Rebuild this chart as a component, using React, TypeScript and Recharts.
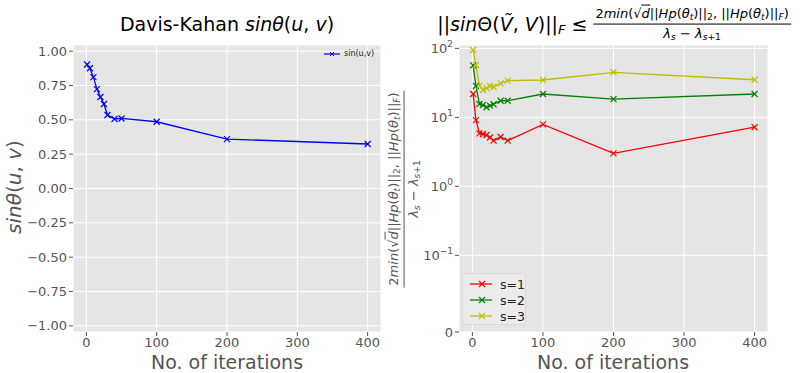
import { LineChart, Line, XAxis, YAxis, CartesianGrid } from 'recharts';

// iterations (shared x values)
const ITER = [1, 5, 10, 15, 20, 25, 30, 40, 50, 100, 200, 400];
// left panel: Davis-Kahan sin(u,v)
const SIN_UV = [0.903, 0.876, 0.811, 0.724, 0.666, 0.615, 0.535, 0.506, 0.51, 0.486, 0.36, 0.324];
// right panel: bound for s=1,2,3
const S1 = [21.8, 9.1, 5.87, 5.74, 5.55, 5.1, 4.6, 5.2, 4.6, 7.9, 3.0, 7.2];
const S2 = [56.8, 28.5, 15.6, 15.1, 14.0, 14.8, 15.5, 17.4, 17.4, 21.8, 18.4, 21.8];
const S3 = [94.6, 57.4, 28.8, 24.9, 26.4, 28.5, 27.8, 31.1, 34.0, 34.8, 45, 35.1];

const X_TICKS = [0, 100, 200, 300, 400];
const LEFT_Y_TICKS = [-1, -0.75, -0.5, -0.25, 0, 0.25, 0.5, 0.75, 1];
const RIGHT_Y_VALUES = [0, 0.1, 1, 10, 100];
const RIGHT_Y_LABELS = ['0', '−1', '0', '1', '2'];

// matplotlib symlog, linthresh=0.1, linscale=1
const LINTHRESH = 0.1;
const LINSCALE = 1 / (1 - 1 / 10);
const symlog = (v: number) =>
  v < LINTHRESH ? (v / LINTHRESH) * LINSCALE : LINSCALE + Math.log10(v / LINTHRESH);

const leftData = ITER.map((it, i) => ({ it, sin: SIN_UV[i] }));
const rightData = ITER.map((it, i) => ({ it, s1: symlog(S1[i]), s2: symlog(S2[i]), s3: symlog(S3[i]) }));
const RIGHT_TICKS = RIGHT_Y_VALUES.map(symlog);

const FONT = '"DejaVu Sans", sans-serif';
const BG = '#E5E5E5';
const TICK = { fill: '#555', fontSize: 13, fontFamily: FONT };

const xMark = (color: string) => (props: any) => {
  const { cx, cy, index } = props;
  if (cx == null || cy == null) return <g key={index} />;
  const r = 3;
  return (
    <path
      key={index}
      d={`M${cx - r},${cy - r}L${cx + r},${cy + r}M${cx - r},${cy + r}L${cx + r},${cy - r}`}
      stroke={color}
      strokeWidth={1.2}
      fill="none"
    />
  );
};

const PowTick = (props: any) => {
  const { x, y, payload, index } = props;
  const lbl = RIGHT_Y_LABELS[index];
  if (index === 0) {
    return (
      <text x={x} y={y} dy="0.35em" textAnchor="end" {...TICK}>
        {lbl}
      </text>
    );
  }
  return (
    <text x={x} y={y} dy="0.35em" textAnchor="end" {...TICK} key={payload.value}>
      10
      <tspan dy={-6} fontSize={9}>
        {lbl}
      </tspan>
      <tspan dy={6} fontSize={2}> </tspan>
    </text>
  );
};

const subStyle = { fontSize: '0.7em', verticalAlign: '-0.3em', lineHeight: 0 } as const;

const Frac = ({ size, color }: { size: number; color: string }) => (
  <span
    style={{
      display: 'inline-flex',
      flexDirection: 'column',
      alignItems: 'center',
      fontSize: size,
      lineHeight: 1.15,
      color,
    }}
  >
    <span style={{ padding: '0 2px 2px' }}>
      2<i>min</i>(√<span style={{ borderTop: `1px solid ${color}` }}><i>d</i></span>||<i>Hp</i>(<i>θ</i>
      <sub style={subStyle}><i>t</i></sub>)||<sub style={subStyle}>2</sub>, ||<i>Hp</i>(<i>θ</i>
      <sub style={subStyle}><i>t</i></sub>)||<sub style={subStyle}><i>F</i></sub>)
    </span>
    <span style={{ alignSelf: 'stretch', borderTop: `1px solid ${color}` }} />
    <span style={{ paddingTop: 2 }}>
      <i>λ</i><sub style={subStyle}><i>s</i></sub> − <i>λ</i><sub style={subStyle}><i>s</i>+1</sub>
    </span>
  </span>
);

const center = (x: number, y: number, extra = '') =>
  ({
    position: 'absolute',
    left: x,
    top: y,
    transform: `translate(-50%, -50%) ${extra}`,
    whiteSpace: 'nowrap',
    fontFamily: FONT,
    lineHeight: 1,
  }) as const;

const LegendRow = ({ color, label }: { color: string; label: string }) => (
  <div style={{ display: 'flex', alignItems: 'center', height: 16 }}>
    <svg width={26} height={10} style={{ marginRight: 8 }}>
      <line x1={1} y1={5} x2={25} y2={5} stroke={color} strokeWidth={1.3} />
      <path d="M10,2L16,8M10,8L16,2" stroke={color} strokeWidth={1.2} />
    </svg>
    <span style={{ fontSize: 12.5, color: '#222' }}>{label}</span>
  </div>
);

export default function App() {
  return (
    <div style={{ position: 'absolute', left: 0, top: 0, width: 800, height: 373, background: '#fff', overflow: 'hidden' }}>
      {/* left panel */}
      <div style={{ position: 'absolute', left: 0, top: 0 }}>
        <LineChart width={400} height={373} data={leftData} margin={{ top: 45, right: 19, bottom: 0, left: 0 }}>
          <CartesianGrid fill={BG} stroke="#fff" strokeWidth={1} />
          <XAxis
            dataKey="it"
            type="number"
            domain={[-19, 419]}
            ticks={X_TICKS}
            allowDataOverflow
            axisLine={false}
            tickLine={{ stroke: '#555' }}
            tickSize={4}
            tickMargin={2}
            height={41}
            tick={TICK}
          />
          <YAxis
            type="number"
            domain={[-1.045, 1.045]}
            ticks={LEFT_Y_TICKS}
            allowDataOverflow
            axisLine={false}
            tickLine={{ stroke: '#555' }}
            tickSize={4}
            tickMargin={2}
            width={73}
            tick={TICK}
            tickFormatter={(v: number) => (v < 0 ? '−' + Math.abs(v).toFixed(2) : v.toFixed(2))}
          />
          <Line
            dataKey="sin"
            stroke="#0000ff"
            strokeWidth={1.3}
            dot={xMark('#0000ff')}
            isAnimationActive={false}
          />
        </LineChart>
      </div>

      {/* right panel */}
      <div style={{ position: 'absolute', left: 400, top: 0 }}>
        <LineChart width={400} height={373} data={rightData} margin={{ top: 45, right: 32, bottom: 0, left: 0 }}>
          <CartesianGrid fill={BG} stroke="#fff" strokeWidth={1} />
          <XAxis
            dataKey="it"
            type="number"
            domain={[-19, 419]}
            ticks={X_TICKS}
            allowDataOverflow
            axisLine={false}
            tickLine={{ stroke: '#555' }}
            tickSize={4}
            tickMargin={2}
            height={41}
            tick={TICK}
          />
          <YAxis
            type="number"
            domain={[0, 4.16]}
            ticks={RIGHT_TICKS}
            allowDataOverflow
            axisLine={false}
            tickLine={{ stroke: '#555' }}
            tickSize={4}
            tickMargin={2}
            width={59}
            tick={<PowTick />}
          />
          <Line dataKey="s1" stroke="#ff0000" strokeWidth={1.3} dot={xMark('#ff0000')} isAnimationActive={false} />
          <Line dataKey="s2" stroke="#008000" strokeWidth={1.3} dot={xMark('#008000')} isAnimationActive={false} />
          <Line dataKey="s3" stroke="#bfbf00" strokeWidth={1.3} dot={xMark('#bfbf00')} isAnimationActive={false} />
        </LineChart>
      </div>

      {/* titles */}
      <div style={{ ...center(227, 24), fontSize: 19, color: '#000' }}>
        Davis-Kahan <i>sinθ</i>(<i>u</i>, <i>v</i>)
      </div>
      <div style={{ ...center(614, 24), display: 'flex', alignItems: 'center', color: '#000' }}>
        <span style={{ fontSize: 19, marginRight: 6 }}>
          ||<i>sin</i>Θ(<i>Ṽ</i>, <i>V</i>)||<sub style={{ fontSize: 13, verticalAlign: '-0.3em', lineHeight: 0 }}><i>F</i></sub> ≤
        </span>
        <Frac size={13} color="#000" />
      </div>

      {/* axis labels */}
      <div style={{ ...center(227, 362), fontSize: 19, color: '#555' }}>No. of iterations</div>
      <div style={{ ...center(613, 362), fontSize: 19, color: '#555' }}>No. of iterations</div>
      <div style={{ ...center(14, 187, 'rotate(-90deg)'), fontSize: 20, color: '#555' }}>
        <i>sinθ</i>(<i>u</i>, <i>v</i>)
      </div>
      <div style={{ ...center(402, 189, 'rotate(-90deg)'), lineHeight: 'normal' }}>
        <Frac size={13} color="#555" />
      </div>

      {/* legends */}
      <div
        style={{
          position: 'absolute',
          left: 323,
          top: 46,
          width: 55,
          height: 15,
          display: 'flex',
          alignItems: 'center',
          fontFamily: FONT,
          fontSize: 8,
        }}
      >
        <svg width={17} height={8} style={{ marginRight: 4 }}>
          <line x1={1} y1={4} x2={17} y2={4} stroke="#0000ff" strokeWidth={1.2} />
          <path d="M7,2L11,6M7,6L11,2" stroke="#0000ff" strokeWidth={1} />
        </svg>
        <span style={{ color: '#222' }}>sin(u,v)</span>
      </div>
      <div
        style={{
          position: 'absolute',
          left: 462,
          top: 273,
          width: 64,
          height: 52,
          padding: '2px 0 0 6px',
          boxSizing: 'border-box',
          background: '#ebebeb',
          border: '1px solid #dadada',
          borderRadius: 3,
          fontFamily: FONT,
        }}
      >
        <LegendRow color="#ff0000" label="s=1" />
        <LegendRow color="#008000" label="s=2" />
        <LegendRow color="#bfbf00" label="s=3" />
      </div>
    </div>
  );
}
